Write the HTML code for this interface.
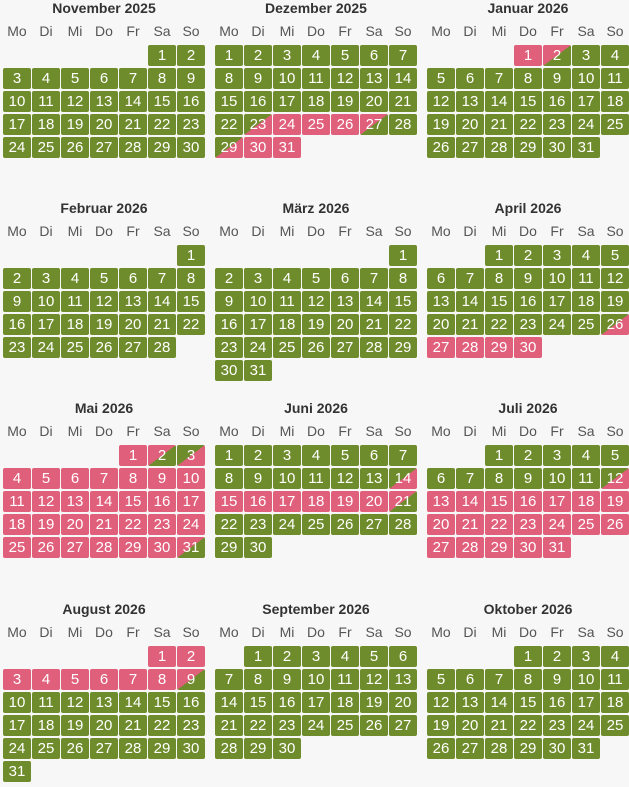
<!DOCTYPE html>
<html><head><meta charset="utf-8"><style>
body{margin:0;width:629px;height:787px;background:#f7f7f7;font-family:"Liberation Sans",sans-serif;overflow:hidden;position:relative}
.t{position:absolute;width:202px;text-align:center;font-size:14px;font-weight:bold;color:#333;line-height:16px}
.h{position:absolute;width:28px;text-align:center;font-size:14px;color:#555;line-height:16px}
.c{position:absolute;width:28px;height:21px;border-radius:2px;color:#fff;font-size:15px;line-height:21px;text-align:center}
.g{background:#6f8c2c}.p{background:#e05f7b}
.a{background:linear-gradient(to bottom right,#6f8c2c 50%,#e05f7b 50%)}
.d{background:linear-gradient(to bottom right,#e05f7b 50%,#6f8c2c 50%)}
</style></head><body>
<script>
var months=[["November 2025",5,30,{}],["Dezember 2025",0,31,{23:'a',24:'p',25:'p',26:'p',27:'d',29:'a',30:'p',31:'p'}],["Januar 2026",3,31,{1:'p',2:'d'}],
["Februar 2026",6,28,{}],["März 2026",6,31,{}],["April 2026",2,30,{26:'a',27:'p',28:'p',29:'p',30:'p'}],
["Mai 2026",4,31,{}],["Juni 2026",0,30,{14:'a',15:'p',16:'p',17:'p',18:'p',19:'p',20:'p',21:'d'}],["Juli 2026",2,31,{12:'a'}],
["August 2026",5,31,{9:'d'}],["September 2026",1,30,{}],["Oktober 2026",3,31,{}]];
var i;for(i=1;i<=31;i++){if(i!=2&&i!=3&&i!=31)months[6][3][i]='p';}
months[6][3][2]='d';months[6][3][3]='a';months[6][3][31]='d';
for(i=13;i<=31;i++)months[8][3][i]='p';
for(i=1;i<=8;i++)months[9][3][i]='p';
var tops=[0,200,400,601],hd=["Mo","Di","Mi","Do","Fr","Sa","So"],h='';
months.forEach(function(m,k){var x0=3+212*(k%3),y0=tops[Math.floor(k/3)];
h+='<div class="t" style="left:'+x0+'px;top:'+(y0+0)+'px">'+m[0]+'</div>';
for(var j=0;j<7;j++)h+='<div class="h" style="left:'+(x0+29*j)+'px;top:'+(y0+23)+'px">'+hd[j]+'</div>';
for(var d=1;d<=m[2];d++){var idx=m[1]+d-1,col=idx%7,row=Math.floor(idx/7);
h+='<div class="c '+(m[3][d]||'g')+'" style="left:'+(x0+29*col)+'px;top:'+(y0+45+23*row)+'px">'+d+'</div>';}
});
document.body.insertAdjacentHTML('beforeend',h);
</script>
</body></html>
